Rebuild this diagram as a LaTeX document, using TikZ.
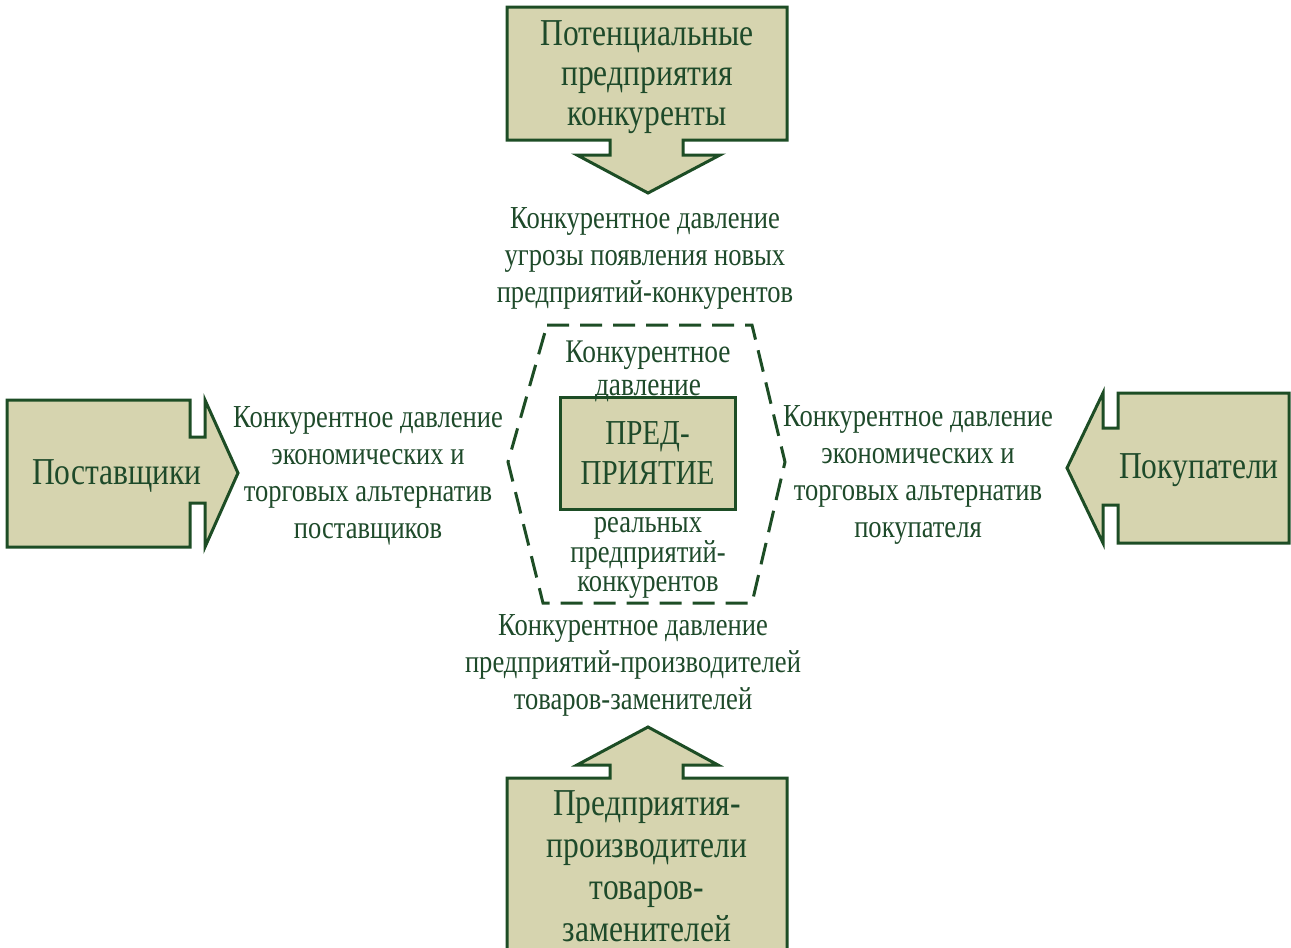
\documentclass[tikz,border=0pt]{standalone}
\usepackage{fontspec}
\setmainfont{Liberation Serif}[FakeStretch=0.83]
\definecolor{ink}{HTML}{1E4A2A}
\definecolor{edge}{HTML}{1D4D25}
\definecolor{khaki}{HTML}{D6D4AF}
\tikzset{
  block/.style={draw=edge, fill=khaki, line width=3pt, line join=miter},
  frame/.style={draw=edge, line width=3pt, dash pattern=on 22pt off 11pt},
  note/.style={text=ink, align=center, inner sep=0pt, font=\fontsize{32}{37}\selectfont},
  big/.style={text=ink, align=center, inner sep=0pt, font=\fontsize{38}{40}\selectfont},
}
\begin{document}
\begin{tikzpicture}[x=1pt, y=-1pt]
\useasboundingbox (0,0) rectangle (1291,948);
\clip (0,0) rectangle (1291,948);

% top arrow: potential competitors
\draw[block] (507,7) -- (787,7) -- (787,140) -- (683,140) -- (683,155) -- (720,155)
  -- (648,193) -- (577,155) -- (610,155) -- (610,140) -- (507,140) -- cycle;
% left arrow: suppliers
\draw[block] (7,400) -- (190,400) -- (190,437) -- (205,437) -- (205,400) -- (238,473)
  -- (205,547) -- (205,503) -- (190,503) -- (190,547) -- (7,547) -- cycle;
% right arrow: buyers
\draw[block] (1289,393) -- (1118,393) -- (1118,428) -- (1103,428) -- (1103,393) -- (1067,468)
  -- (1103,543) -- (1103,505) -- (1118,505) -- (1118,543) -- (1289,543) -- cycle;
% bottom arrow: substitute producers
\draw[block] (648,727) -- (718,765) -- (683,765) -- (683,778) -- (787,778) -- (787,970)
  -- (507,970) -- (507,778) -- (610,778) -- (610,765) -- (577,765) -- cycle;

% dashed zone of rivalry among existing firms
\draw[frame] (547,325) -- (752,325) -- (785,462) -- (752,603) -- (543,603) -- (508,462) -- cycle;

% the enterprise
\node[block, minimum width=175pt, minimum height=112pt, inner sep=0pt] (firm) at (647.5,453) {};
\node[big, font=\fontsize{35}{40}\selectfont] (firmtxt) at (647.5,453) {ПРЕД-\\ПРИЯТИЕ};

% box captions
\node[big] (potential) at (647,77) {Потенциальные\\предприятия\\конкуренты};
\node[big] (suppliers) at (117,476) {Поставщики};
\node[big] (buyers) at (1199,470) {Покупатели};
\node[big, font=\fontsize{38}{42}\selectfont] (substitutes) at (647,866) {Предприятия-\\производители\\товаров-\\заменителей};

% pressure captions
\node[note] (pnew) at (645,258) {Конкурентное давление\\угрозы появления новых\\предприятий-конкурентов};
\node[note] (psup) at (368,476) {Конкурентное давление\\экономических и\\торговых альтернатив\\поставщиков};
\node[note] (pbuy) at (918,475) {Конкурентное давление\\экономических и\\торговых альтернатив\\покупателя};
\node[note] (psub) at (633,665) {Конкурентное давление\\предприятий-производителей\\товаров-заменителей};
\node[note, font=\fontsize{33}{33}\selectfont] (pin1) at (648,371) {Конкурентное\\давление};
\node[note, font=\fontsize{32}{29.5}\selectfont] (pin2) at (648,558) {реальных\\предприятий-\\конкурентов};
\end{tikzpicture}
\end{document}
